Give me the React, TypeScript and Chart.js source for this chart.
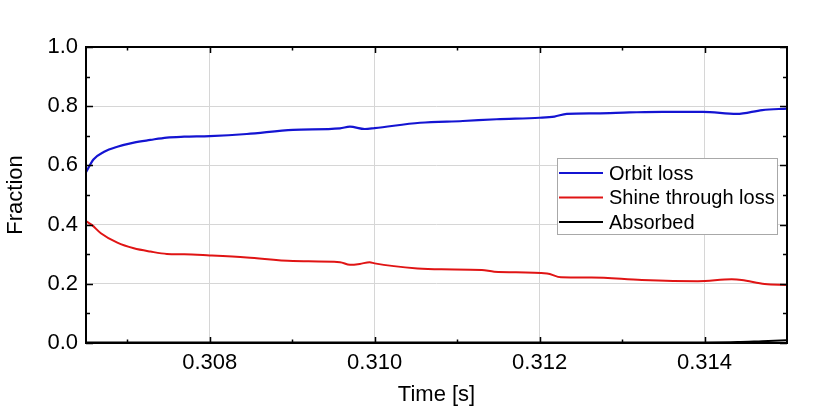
import React, { useEffect, useRef } from "react";
import { Chart, registerables } from "chart.js";

Chart.register(...registerables);

const orbitTime = [0.3065, 0.30659, 0.30672, 0.30688, 0.30708, 0.30728, 0.30748, 0.30769, 0.308, 0.30845, 0.30901, 0.30958, 0.3097, 0.30988, 0.31, 0.31055, 0.31107, 0.31148, 0.312, 0.31218, 0.31233, 0.31269, 0.31309, 0.31349, 0.31398, 0.31439, 0.3147, 0.315];
const orbitLoss = [0.577, 0.62, 0.646, 0.663, 0.677, 0.686, 0.694, 0.697, 0.699, 0.706, 0.72, 0.725, 0.731, 0.723, 0.726, 0.744, 0.75, 0.756, 0.761, 0.765, 0.774, 0.776, 0.779, 0.781, 0.781, 0.774, 0.787, 0.792];

const shineTime = [0.3065, 0.30657, 0.30668, 0.30688, 0.30708, 0.30728, 0.30748, 0.30769, 0.308, 0.30845, 0.30901, 0.30958, 0.3097, 0.30982, 0.30994, 0.31, 0.31052, 0.31081, 0.3113, 0.31145, 0.31209, 0.31226, 0.31263, 0.31324, 0.31392, 0.31433, 0.31445, 0.31473, 0.315];
const shineLoss = [0.412, 0.399, 0.371, 0.339, 0.32, 0.309, 0.301, 0.3, 0.296, 0.289, 0.277, 0.273, 0.264, 0.267, 0.273, 0.269, 0.252, 0.249, 0.247, 0.241, 0.235, 0.222, 0.221, 0.213, 0.209, 0.215, 0.213, 0.199, 0.196];

const absorbedTime = [0.3065, 0.308, 0.31, 0.312, 0.314, 0.3144, 0.3147, 0.315];
const absorbedValue = [0.002, 0.002, 0.002, 0.002, 0.002, 0.003, 0.006, 0.009];

const xMajorTicks = [0.308, 0.31, 0.312, 0.314];
const xMinorTicks = [0.307, 0.309, 0.311, 0.313];
const yMajorTicks = [0.0, 0.2, 0.4, 0.6, 0.8, 1.0];
const yMinorTicks = [0.1, 0.3, 0.5, 0.7, 0.9];

const seriesLabels = ["Orbit loss", "Shine through loss", "Absorbed"];
const seriesColors = ["#1414d2", "#e01414", "#000000"];

const FONT = "'Liberation Sans', Arial, sans-serif";

const toPoints = (xs: number[], ys: number[]) => xs.map((x, i) => ({ x, y: ys[i] }));

const framePlugin = {
  id: "frameTicks",
  afterDatasetsDraw(chart: any) {
    const { ctx, chartArea, scales } = chart;
    const { left, right, top, bottom } = chartArea;
    ctx.save();
    // legend box
    const bx = right - 230;
    const by = top + 111;
    const bw = 220;
    const bh = 76;
    ctx.fillStyle = "#ffffff";
    ctx.fillRect(bx, by, bw, bh);
    ctx.strokeStyle = "#a8a8a8";
    ctx.lineWidth = 1;
    ctx.strokeRect(bx + 0.5, by + 0.5, bw, bh);
    ctx.font = `20px ${FONT}`;
    ctx.textBaseline = "middle";
    ctx.textAlign = "left";
    chart.data.datasets.forEach((ds: any, i: number) => {
      const yy = by + 15 + i * 24.5;
      ctx.strokeStyle = ds.borderColor;
      ctx.lineWidth = 2;
      ctx.beginPath();
      ctx.moveTo(bx + 2, yy);
      ctx.lineTo(bx + 46, yy);
      ctx.stroke();
      ctx.fillStyle = "#000000";
      ctx.fillText(ds.label, bx + 52, yy + 1);
    });

    // inward ticks
    ctx.strokeStyle = "#000000";
    ctx.lineWidth = 1.5;
    const xs = scales.x;
    const ys = scales.y;
    const drawX = (vals: number[], len: number) => {
      vals.forEach((v) => {
        const px = Math.round(xs.getPixelForValue(v)) + 0.5;
        ctx.beginPath();
        ctx.moveTo(px, bottom);
        ctx.lineTo(px, bottom - len);
        ctx.moveTo(px, top);
        ctx.lineTo(px, top + len);
        ctx.stroke();
      });
    };
    const drawY = (vals: number[], len: number) => {
      vals.forEach((v) => {
        const py = Math.round(ys.getPixelForValue(v)) + 0.5;
        ctx.beginPath();
        ctx.moveTo(left, py);
        ctx.lineTo(left + len, py);
        ctx.moveTo(right, py);
        ctx.lineTo(right - len, py);
        ctx.stroke();
      });
    };
    drawX(xMajorTicks, 6);
    drawX(xMinorTicks, 3.5);
    drawY(yMajorTicks, 7);
    drawY(yMinorTicks, 4);

    // frame
    ctx.lineWidth = 2;
    ctx.strokeStyle = "#000000";
    ctx.strokeRect(left, top, right - left, bottom - top);
    ctx.restore();
  },
};

export default function App() {
  const canvasRef = useRef<HTMLCanvasElement | null>(null);

  useEffect(() => {
    document.body.style.margin = "0";
    const canvas = canvasRef.current;
    if (!canvas) return;
    const lineStyle = {
      pointRadius: 0,
      cubicInterpolationMode: "monotone" as const,
      fill: false,
    };
    const chart = new Chart(canvas, {
      type: "line",
      data: {
        datasets: [
          {
            label: seriesLabels[0],
            data: toPoints(orbitTime, orbitLoss),
            borderColor: seriesColors[0],
            borderWidth: 2.2,
            ...lineStyle,
          },
          {
            label: seriesLabels[1],
            data: toPoints(shineTime, shineLoss),
            borderColor: seriesColors[1],
            borderWidth: 2,
            ...lineStyle,
          },
          {
            label: seriesLabels[2],
            data: toPoints(absorbedTime, absorbedValue),
            borderColor: seriesColors[2],
            borderWidth: 2,
            ...lineStyle,
          },
        ],
      },
      options: {
        responsive: false,
        animation: false,
        devicePixelRatio: 1,
        layout: { padding: { left: 0, top: 47, right: 47, bottom: 0 } },
        plugins: {
          legend: { display: false },
          tooltip: { enabled: false },
        },
        scales: {
          x: {
            type: "linear",
            min: 0.3065,
            max: 0.315,
            afterBuildTicks: (scale: any) => {
              scale.ticks = xMajorTicks.map((v) => ({ value: v }));
            },
            afterFit: (scale: any) => {
              scale.height = 70;
            },
            grid: { color: "#d6d6d6", lineWidth: 1, drawTicks: false },
            border: { display: false },
            ticks: {
              padding: 7,
              color: "#000000",
              font: { family: FONT, size: 22 },
              callback: (v: any) => Number(v).toFixed(3),
            },
            title: {
              display: true,
              text: "Time [s]",
              color: "#000000",
              font: { family: FONT, size: 22 },
              padding: { top: 2, bottom: 5 },
            },
          },
          y: {
            type: "linear",
            min: 0,
            max: 1,
            afterBuildTicks: (scale: any) => {
              scale.ticks = yMajorTicks.map((v) => ({ value: v }));
            },
            afterFit: (scale: any) => {
              scale.width = 86;
            },
            grid: { color: "#d6d6d6", lineWidth: 1, drawTicks: false },
            border: { display: false },
            ticks: {
              padding: 8,
              color: "#000000",
              font: { family: FONT, size: 22 },
              callback: (v: any) => Number(v).toFixed(1),
            },
            title: {
              display: true,
              text: "Fraction",
              color: "#000000",
              font: { family: FONT, size: 22 },
              padding: { top: 3, bottom: 4 },
            },
          },
        },
      },
      plugins: [framePlugin],
    });
    return () => chart.destroy();
  }, []);

  return (
    <div style={{ width: 834, height: 413, background: "#ffffff" }}>
      <canvas ref={canvasRef} width={834} height={413} style={{ display: "block" }} />
    </div>
  );
}
